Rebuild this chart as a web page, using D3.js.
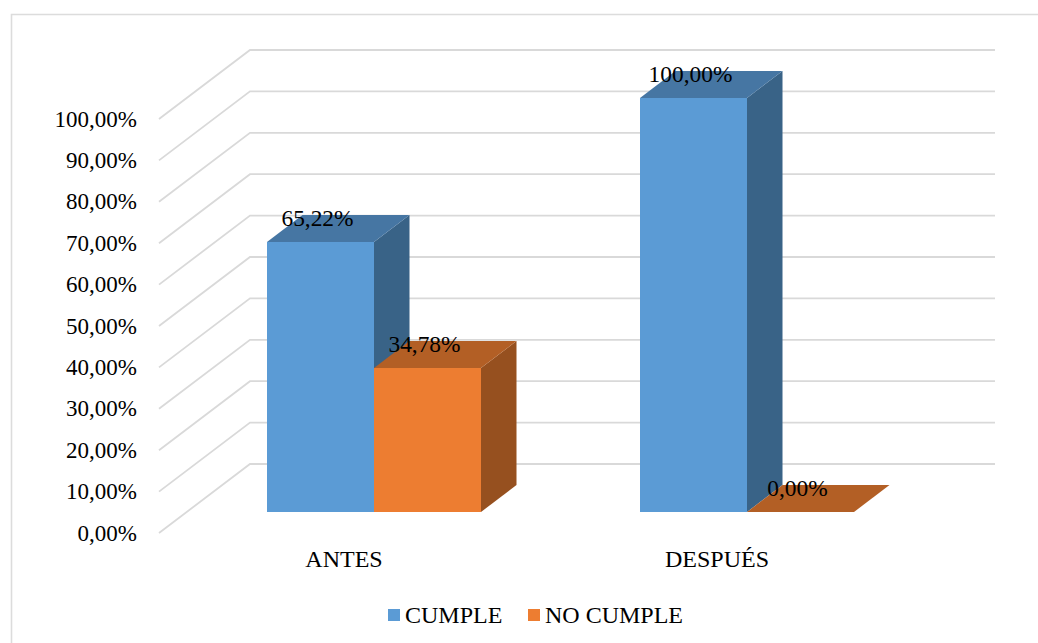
<!DOCTYPE html>
<html>
<head>
<meta charset="utf-8">
<script src="https://cdn.jsdelivr.net/npm/d3@7/dist/d3.min.js"></script>
<style>
html,body{margin:0;padding:0;background:#fff}
svg{display:block}
text{font-family:"Liberation Serif","Times New Roman",serif;fill:#000}
</style>
</head>
<body>
<svg id="chart" width="1038" height="643"></svg>
<script>
const categories = ["ANTES", "DESPUÉS"];
const seriesNames = ["CUMPLE", "NO CUMPLE"];
const cumple = [65.22, 100];
const noCumple = [34.78, 0];
const ticks = [0, 10, 20, 30, 40, 50, 60, 70, 80, 90, 100];

const fmt = v => v.toFixed(2).replace(".", ",") + "%";
const svg = d3.select("#chart");

// Outer chart frame: only the top and left edges are inside the canvas
svg.append("path")
  .attr("d", "M11.5,643V14.5H1038")
  .attr("fill", "none").attr("stroke", "#dcdcdc").attr("stroke-width", 1.6);

// Oblique projection: the floor and wall sit behind the front plane
const wallDx = 91, wallDy = -69;
const barDx = 35.5, barDy = -27;
const frontLeft = 159, wallRight = 995;

// Bars stand on a plane between the front edge and the back wall
const yBar = d3.scaleLinear().domain([0, 100]).range([512, 98]);
const yFront = d3.scaleLinear().domain([0, 100]).range([533, 119]);

const xCat = d3.scaleBand().domain(categories).range([187.5, 933.5]).padding(0);
const xSeries = d3.scaleBand().domain(seriesNames).range([0, 214]);
const catOffset = (xCat.bandwidth() - xSeries.range()[1]) / 2;

// Wall and side gridlines
const grid = svg.append("g");
ticks.forEach(t => {
  const y = yFront(t);
  grid.append("path")
    .attr("d", `M${frontLeft},${y}L${frontLeft + wallDx},${y + wallDy}H${wallRight}`)
    .attr("fill", "none").attr("stroke", "#d9d9d9").attr("stroke-width", 1.8);
});

// Value axis labels
svg.append("g").selectAll("text").data(ticks).join("text")
  .attr("x", 137).attr("y", d => yFront(d))
  .attr("dy", "0.33em")
  .attr("text-anchor", "end")
  .attr("font-size", 23)
  .text(fmt);

// One record per bar, drawn left to right within each cluster
const colours = {
  CUMPLE: { front: "#5b9bd5", top: "#4676a3", side: "#396387" },
  "NO CUMPLE": { front: "#ed7d31", top: "#b35f25", side: "#96501f" }
};
const bars = [];
categories.forEach((c, i) => {
  bars.push({ cat: c, series: "CUMPLE", value: cumple[i] });
  bars.push({ cat: c, series: "NO CUMPLE", value: noCumple[i] });
});
const barX = d => xCat(d.cat) + catOffset + xSeries(d.series);
const bw = xSeries.bandwidth();

const barG = svg.append("g").selectAll("g").data(bars).join("g");
barG.append("path") // side face
  .attr("fill", d => colours[d.series].side)
  .attr("d", d => {
    const x = barX(d) + bw, t = yBar(d.value), b = yBar(0);
    return `M${x},${t}l${barDx},${barDy}V${b + barDy}L${x},${b}Z`;
  });
barG.append("path") // top face
  .attr("fill", d => colours[d.series].top)
  .attr("d", d => {
    const x = barX(d), t = yBar(d.value);
    return `M${x},${t}l${barDx},${barDy}h${bw}l${-barDx},${-barDy}Z`;
  });
barG.append("rect") // front face
  .attr("fill", d => colours[d.series].front)
  .attr("x", barX).attr("y", d => yBar(d.value))
  .attr("width", bw).attr("height", d => yBar(0) - yBar(d.value));

// Value labels straddle the top face of each bar
svg.append("g").selectAll("text").data(bars).join("text")
  .attr("x", d => barX(d) + bw / 2 - 3)
  .attr("y", d => yBar(d.value) - 16)
  .attr("text-anchor", "middle")
  .attr("font-size", 23.4)
  .text(d => fmt(d.value));

// Category labels
svg.append("g").selectAll("text").data(categories).join("text")
  .attr("x", d => xCat(d) + xCat.bandwidth() / 2 - 30)
  .attr("y", 567)
  .attr("text-anchor", "middle")
  .attr("font-size", 24)
  .text(d => d);

// Legend
const legend = svg.append("g");
const legendItems = [
  { name: seriesNames[0], sx: 388, tx: 405 },
  { name: seriesNames[1], sx: 528, tx: 545 }
];
legend.selectAll("rect").data(legendItems).join("rect")
  .attr("x", d => d.sx).attr("y", 609).attr("width", 12).attr("height", 12)
  .attr("fill", d => colours[d.name].front);
legend.selectAll("text").data(legendItems).join("text")
  .attr("x", d => d.tx).attr("y", 623)
  .attr("font-size", 24)
  .text(d => d.name);
</script>
</body>
</html>
